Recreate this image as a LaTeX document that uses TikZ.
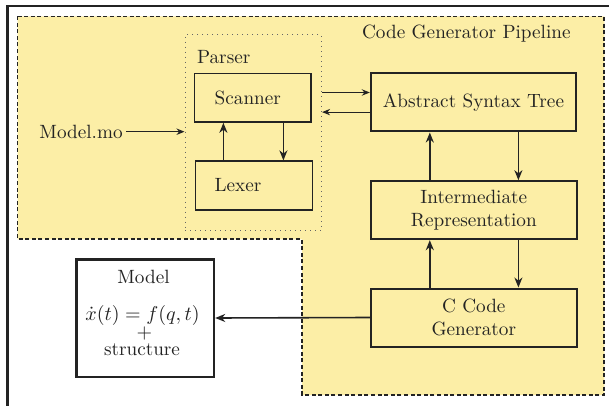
\documentclass[tikz,border=0pt]{standalone}
\usetikzlibrary{arrows.meta,calc}
\definecolor{cgyellow}{RGB}{252,238,166}
\definecolor{ink}{RGB}{35,35,35}
\begin{document}
\begin{tikzpicture}[x=0.5pt,y=-0.5pt,
  every node/.style={font=\fontsize{9.6}{11.5}\selectfont, text=ink},
  arr/.style={draw=ink, line width=0.8pt, -{Stealth[length=5pt,width=4pt,inset=1.6pt]}},
  thinarr/.style={draw=ink, line width=0.55pt, -{Stealth[length=4pt,width=3.2pt,inset=1.3pt]}},
  bigbox/.style={draw=ink, line width=1pt, minimum width=102.7pt, minimum height=29pt, inner sep=0pt, align=center},
  smallbox/.style={draw=ink, line width=0.7pt, minimum width=58.3pt, minimum height=24.4pt, text width=38pt, align=left, inner xsep=10pt, inner ysep=0pt},
  txt/.style={inner sep=0pt}
]
\clip (0,0) rectangle (609,406);
\useasboundingbox (0,0) rectangle (609,406);
\fill[white] (0,0) rectangle (609,406);
% outer frame
\draw[ink, line width=1.2pt] (7.3,430) -- (7.3,6) -- (630,6);
% yellow region
\draw[fill=cgyellow, draw=ink, line width=0.95pt, dash pattern=on 2pt off 1.3pt]
  (17.5,16.5) -- (604.3,16.5) -- (604.3,395) -- (302,395) -- (302,239.3) -- (17.5,239.3) -- cycle;
\node[txt, anchor=east] (title) at (571,33.3) {Code Generator Pipeline};
% parser
\node[draw=ink!70, dotted, line width=0.5pt, minimum width=68.3pt, minimum height=97.5pt, inner sep=0pt] (parser) at (253.3,132.5) {};
\node[txt, anchor=west] (parserlbl) at (196.7,56.7) {Parser};
\node[smallbox] (scanner) at (252.7,97.7) {Scanner};
\node[smallbox, inner xsep=9.3pt, text width=39.4pt] (lexer) at (254,185.5) {Lexer};
% pipeline boxes
\node[bigbox] (ast) at (473.5,102.5) {Abstract Syntax Tree};
\node[bigbox] (ir) at (473.8,210.2) {Intermediate\\Representation};
\node[bigbox] (cgen) at (473.8,317.5) {C Code\\Generator};
% model box
\node[draw=ink, line width=1.2pt, minimum width=68.7pt, minimum height=58.7pt, inner sep=0pt] (model) at (145.3,318) {};
\node[txt, anchor=base] (mtitle) at (143.5,283.5) {Model};
\node[txt, anchor=base] (meq) at (142.5,320.5) {$\dot{x}(t) = f(q,t)$};
\node[txt, anchor=base] (mplus) at (144.5,338) {$+$};
\node[txt, anchor=base] (mstruct) at (142,355) {structure};
% input
\node[txt, anchor=west] (modelmo) at (39,131.7) {Model.mo};
% connectors
\coordinate (mmstart) at ($(modelmo.east)+(1.5pt,0)$);
\draw[thinarr] (mmstart) -- (mmstart -| parser.west);
\coordinate (pa) at ($(ast.west)+(0,5pt)$);
\coordinate (ap) at ($(ast.west)+(0,-4.8pt)$);
\draw[thinarr] (pa -| parser.east) -- (pa);
\draw[thinarr] (ap) -- (ap -| parser.east);
\coordinate (lu) at ($(lexer.north)+(-15.3pt,0)$);
\coordinate (ld) at ($(lexer.north)+(14.7pt,0)$);
\draw[arr] (lu) -- (lu |- scanner.south);
\draw[arr] (ld |- scanner.south) -- (ld);
\coordinate (iu) at ($(ir.north)+(-22pt,0)$);
\coordinate (id) at ($(ir.north)+(22.3pt,0)$);
\draw[arr] (iu) -- (iu |- ast.south);
\draw[arr] (id |- ast.south) -- (id);
\coordinate (cu) at ($(cgen.north)+(-22pt,0)$);
\coordinate (cd) at ($(cgen.north)+(22.3pt,0)$);
\draw[arr] (cu) -- (cu |- ir.south);
\draw[arr] (cd |- ir.south) -- (cd);
\draw[arr] (cgen.west) -- (model.east);
\end{tikzpicture}
\end{document}
